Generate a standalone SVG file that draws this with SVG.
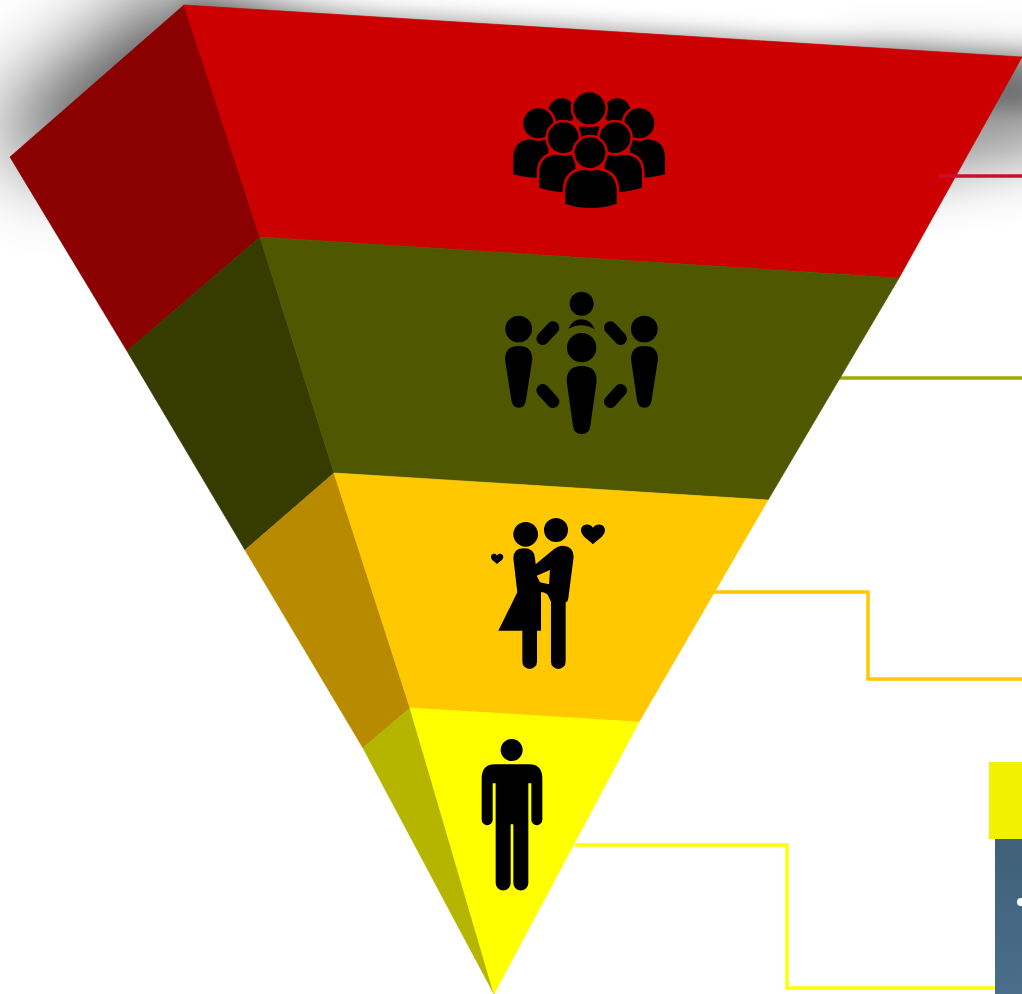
<svg xmlns="http://www.w3.org/2000/svg" width="1022" height="994" viewBox="0 0 1022 994">
<style>
.line{fill:none;stroke-width:3.5}
.cut{stroke:#CC0000;stroke-width:8}
.icon{fill:#000}
.r1{fill:#CC0000;stroke:#CC0000;stroke-width:.7}
.r2{fill:#8B0000;stroke:#8B0000;stroke-width:.7}
.o1{fill:#4F5800;stroke:#4F5800;stroke-width:.7}
.o2{fill:#363C00;stroke:#363C00;stroke-width:.7}
.a1{fill:#FFC800;stroke:#FFC800;stroke-width:.7}
.a2{fill:#B88A00;stroke:#B88A00;stroke-width:.7}
.y1{fill:#FFFF00;stroke:#FFFF00;stroke-width:.7}
.y2{fill:#B5B500;stroke:#B5B500;stroke-width:.7}
</style>
<defs>
<filter id="blurLeft" filterUnits="userSpaceOnUse" x="-300" y="-300" width="1000" height="800"><feGaussianBlur stdDeviation="44"/></filter>
<filter id="blurRight" filterUnits="userSpaceOnUse" x="600" y="-200" width="700" height="700"><feGaussianBlur stdDeviation="30"/></filter>
<filter id="blurTop" filterUnits="userSpaceOnUse" x="-200" y="-200" width="1500" height="700"><feGaussianBlur stdDeviation="11"/></filter>
<linearGradient id="blue" x1="0" y1="0" x2="0" y2="1"><stop offset="0" stop-color="#3F6078"/><stop offset="1" stop-color="#4A6E8A"/></linearGradient>
</defs>
<rect width="1022" height="994" fill="#fff"/>
<g id="shadow">
<polygon points="180,-15 -15,135 70,170 320,110 320,70" fill="#000" opacity=".74" filter="url(#blurLeft)"/>
<polygon points="850,60 1070,70 1070,150 880,185" fill="#000" opacity=".4" filter="url(#blurRight)"/>
<polygon points="184,2 1040,54 1040,110 184,60" fill="#000" opacity=".36" filter="url(#blurTop)"/>
</g>
<g id="connectors">
<path class="line" stroke="#FFC800" d="M713,592H868V679H1022"/>
<path class="line" stroke="#FFFF00" d="M575,845H787V988H996"/>
<path class="line" stroke="#9FAB00" d="M838,378H1022"/>
</g>
<g id="level-1">
<polygon class="r2" points="184,5 260,237 127,351 10,157"/>
<polygon class="r1" points="184,5 1022,57 899,278 260,237"/>
<g id="crowd" class="icon" transform="translate(480,70) scale(.3333)">
<g class="cut">
<circle cx="245" cy="125" r="44"/><circle cx="412" cy="125" r="44"/>
<path d="M298,170H358V240H298Z" stroke="none"/>
<path d="M100,313V265Q100,208 158,208H205V325Q140,325 100,313Z" stroke="none"/>
<path d="M555,313V265Q555,208 497,208H450V325Q515,325 555,313Z" stroke="none"/>
<circle cx="328" cy="115" r="52"/>
<circle cx="175" cy="160" r="49"/><circle cx="478" cy="160" r="49"/>
<path d="M174,356V310Q174,250 235,250H290V372Q220,372 174,356Z"/>
<path d="M490,356V310Q490,250 430,250H370V372Q440,372 490,356Z"/>
<circle cx="250" cy="203" r="50"/><circle cx="405" cy="203" r="50"/>
<path d="M252,404V365Q252,296 320,296H340Q414,296 414,365V404Q330,432 252,404Z"/>
<circle cx="330" cy="248" r="50"/>
</g>
</g>
</g>
<g id="level-2">
<polygon class="o2" points="260,237 334,473 245,550 127,351"/>
<polygon class="o1" points="260,237 899,278 768,500 334,473"/>
<g id="circle-group" class="icon" transform="translate(480,280) scale(.3333)">
<circle cx="305" cy="71" r="36"/><circle cx="305" cy="203" r="44"/><circle cx="116" cy="147" r="40"/><circle cx="493" cy="147" r="40"/>
<path d="M265,146Q278,118 305,118Q332,118 344,148Q305,125 265,146Z"/>
<path d="M260,303Q260,258 305,258Q350,258 350,303L331,438Q328,462 305,462Q282,462 279,438Z"/>
<path d="M75,238Q75,198 116,198Q157,198 157,238L138,360Q135,383 116,383Q97,383 94,360Z"/>
<path d="M453,238Q453,198 493,198Q534,198 534,238L515,360Q512,383 493,383Q474,383 471,360Z"/>
<g fill="none" stroke="#000" stroke-width="38" stroke-linecap="round">
<path d="M188,176L219,143"/><path d="M391,143L422,176"/><path d="M188,331L219,365"/><path d="M422,331L391,365"/>
</g>
</g>
</g>
<g id="level-3">
<polygon class="a2" points="334,473 410,708 363,748 245,550"/>
<polygon class="a1" points="334,473 768,500 639,722 410,708"/>
<g id="couple" class="icon" transform="translate(470,505) scale(.3333)">
<circle cx="167" cy="88" r="37"/><circle cx="258" cy="75" r="36"/>
<path fill-rule="evenodd" d="M130,160Q130,130 162,130Q193,130 195,160L197,178L245,138Q262,122 280,122Q311,125 311,155L295,280Q293,292 287,292V470A22,22 0 0 1 243,470V290L232,268L220,262L213,262V377H201V470A22,22 0 0 1 157,470V377H85L142,262ZM200,212L240,195L237,238L210,232Z"/>
<path d="M369,118C355,105 333,92 333,76C333,58 358,52 369,68C380,52 405,58 405,76C405,92 383,105 369,118Z"/>
<path d="M81,177C74,170 63,165 63,156C63,146 76,143 81,152C86,143 100,146 100,156C100,165 88,170 81,177Z"/>
</g>
</g>
<g id="level-4">
<polygon class="y2" points="410,708 494,994 363,748"/>
<polygon class="y1" points="410,708 639,722 494,994"/>
<g id="person" class="icon" transform="translate(460,725) scale(.3333)">
<circle cx="155" cy="75" r="33"/>
<path d="M65,160Q65,118 105,118H207Q247,118 247,160V284A16.5,16.5 0 0 1 214,284V175H205V474A22.5,22.5 0 0 1 160,474V298H152V474A22.5,22.5 0 0 1 107,474V175H98V284A16.5,16.5 0 0 1 65,284Z"/>
</g>
</g>
<path id="connector-red" class="line" stroke="#C8102E" d="M939,176H1022"/>
<g id="panel">
<rect x="989" y="762" width="33" height="77" fill="#F2F200"/>
<rect x="995" y="839" width="27" height="155" fill="url(#blue)"/>
<circle cx="1021" cy="902" r="4" fill="#fff"/>
</g>
</svg>
